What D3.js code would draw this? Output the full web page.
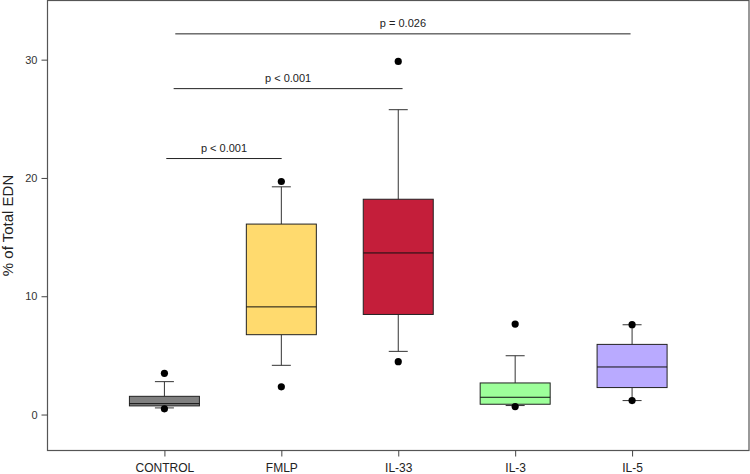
<!DOCTYPE html>
<html>
<head>
<meta charset="utf-8">
<script src="https://cdn.jsdelivr.net/npm/d3@7"></script>
<style>
  html, body { margin: 0; padding: 0; background: #fff; }
  svg { display: block; }
  text { font-family: "Liberation Sans", Arial, sans-serif; }
</style>
</head>
<body>
<svg id="chart" width="750" height="474"></svg>
<script>
// ---- Data ----
const categories = ["CONTROL", "FMLP", "IL-33", "IL-3", "IL-5"];
const colors = ["#808080", "#ffda6e", "#c41e3a", "#9dff9a", "#b9aaff"];
const whiskerLow = [0.56, 4.16, 5.34, 0.76, 1.18];
const q1 = [0.73, 6.75, 8.46, 0.87, 2.28];
const median = [0.92, 9.1, 13.66, 1.46, 4.02];
const q3 = [1.54, 16.1, 18.2, 2.67, 5.93];
const whiskerHigh = [2.78, 19.25, 25.77, 4.97, 7.59];
const outliers = [[3.48, 0.48], [19.7, 2.34], [29.85, 4.47], [7.65, 0.67], [7.6, 1.18]];
const yTicks = [0, 10, 20, 30];
// significance brackets: start/end in category-index units, y in data units
const bracketLabels = ["p < 0.001", "p < 0.001", "p = 0.026"];
const bracketStart = [0.016, 0.079, 0.093];
const bracketEnd = [1.003, 2.037, 3.987];
const bracketY = [21.64, 27.55, 32.18];
const yLabel = "% of Total EDN";

// ---- Layout ----
const svg = d3.select("#chart");
const mLeft = 47.5, mRight = 749, mTop = 0.5, mBottom = 450.5;

const x = d3.scalePoint().domain(categories).range([mLeft, mRight]).padding(1);
const xi = d3.scaleLinear().domain([0, categories.length - 1])
  .range([x(categories[0]), x(categories[categories.length - 1])]);
const y = d3.scaleLinear().domain([-3.04, 35]).range([mBottom, mTop]);

const boxW = 70, capW = 19;

// frame
svg.append("rect")
  .attr("x", mLeft).attr("y", mTop)
  .attr("width", mRight - mLeft).attr("height", mBottom - mTop)
  .attr("fill", "none").attr("stroke", "#555").attr("stroke-width", 1.2);

// y axis
const yAxis = svg.append("g").attr("transform", `translate(${mLeft},0)`)
  .call(d3.axisLeft(y).tickValues(yTicks).tickSize(6).tickPadding(4));
yAxis.select(".domain").remove();
yAxis.selectAll("line").attr("stroke", "#444");
yAxis.selectAll("text").attr("font-size", 11).attr("fill", "#333")
  .style("font-family", "'Liberation Sans', Arial, sans-serif");

// x axis
const xAxis = svg.append("g").attr("transform", `translate(0,${mBottom})`)
  .call(d3.axisBottom(x).tickSize(6).tickPadding(7));
xAxis.select(".domain").remove();
xAxis.selectAll("line").attr("stroke", "#444");
xAxis.selectAll("text").attr("font-size", 12).attr("fill", "#222")
  .style("font-family", "'Liberation Sans', Arial, sans-serif");

// y label
svg.append("text")
  .attr("transform", `translate(12.5,${(mTop + mBottom) / 2}) rotate(-90)`)
  .attr("text-anchor", "middle")
  .attr("font-size", 15).attr("fill", "#222")
  .text(yLabel);

// boxes
const g = svg.append("g");
categories.forEach((c, i) => {
  const cx = x(c);
  const gg = g.append("g");
  gg.append("line").attr("x1", cx).attr("x2", cx)
    .attr("y1", y(q3[i])).attr("y2", y(whiskerHigh[i]))
    .attr("stroke", "#333").attr("stroke-width", 1);
  gg.append("line").attr("x1", cx).attr("x2", cx)
    .attr("y1", y(q1[i])).attr("y2", y(whiskerLow[i]))
    .attr("stroke", "#333").attr("stroke-width", 1);
  [whiskerHigh[i], whiskerLow[i]].forEach(v => {
    gg.append("line").attr("x1", cx - capW / 2).attr("x2", cx + capW / 2)
      .attr("y1", y(v)).attr("y2", y(v))
      .attr("stroke", "#333").attr("stroke-width", 1);
  });
  gg.append("rect")
    .attr("x", cx - boxW / 2).attr("width", boxW)
    .attr("y", y(q3[i])).attr("height", y(q1[i]) - y(q3[i]))
    .attr("fill", colors[i]).attr("stroke", "#222").attr("stroke-width", 1);
  gg.append("line").attr("x1", cx - boxW / 2).attr("x2", cx + boxW / 2)
    .attr("y1", y(median[i])).attr("y2", y(median[i]))
    .attr("stroke", "#111").attr("stroke-width", 1);
  outliers[i].forEach(v => {
    gg.append("circle").attr("cx", cx).attr("cy", y(v)).attr("r", 3.6)
      .attr("fill", "#000");
  });
});

// significance brackets
bracketLabels.forEach((lab, i) => {
  const x1 = xi(bracketStart[i]), x2 = xi(bracketEnd[i]);
  const yy = y(bracketY[i]);
  svg.append("line").attr("x1", x1).attr("x2", x2).attr("y1", yy).attr("y2", yy)
    .attr("stroke", "#222").attr("stroke-width", 1);
  svg.append("text").attr("x", (x1 + x2) / 2).attr("y", yy - 7)
    .attr("text-anchor", "middle").attr("font-size", 11).attr("fill", "#222")
    .text(lab);
});
</script>
</body>
</html>
